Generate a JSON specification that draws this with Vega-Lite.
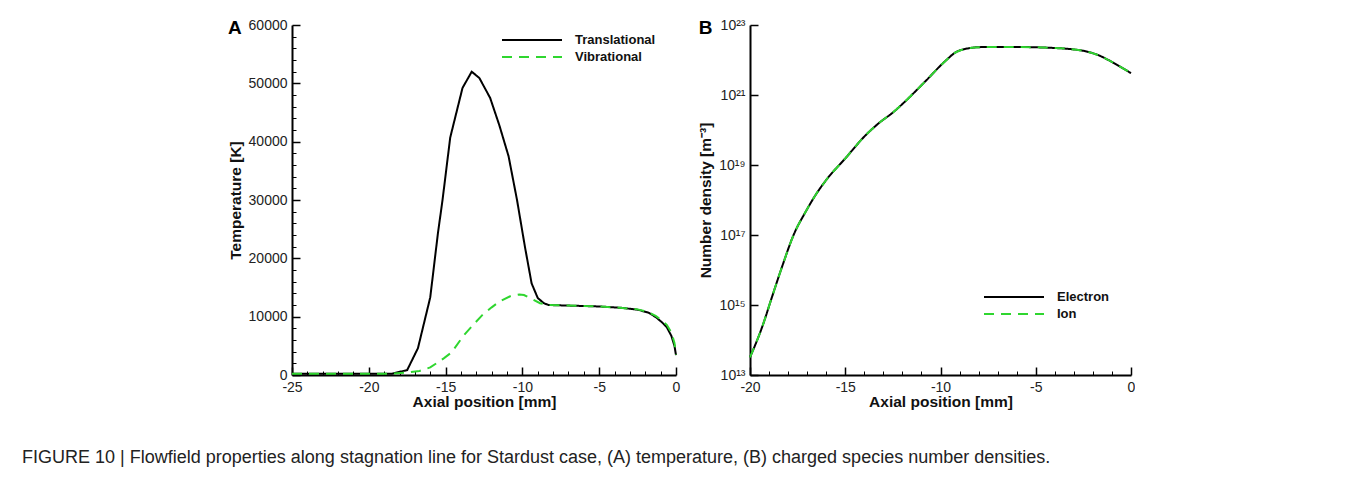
{
  "$schema": "https://vega.github.io/schema/vega-lite/v6.json",
  "padding": {"left": 22, "top": 18, "right": 0, "bottom": 0},
  "background": "white",
  "datasets": {
    "temp": [
      {"x": -25, "T": 200, "series": "Translational"},
      {"x": -20, "T": 200, "series": "Translational"},
      {"x": -18.5, "T": 220, "series": "Translational"},
      {"x": -17.5, "T": 850, "series": "Translational"},
      {"x": -16.8, "T": 4600, "series": "Translational"},
      {"x": -16.0, "T": 13300, "series": "Translational"},
      {"x": -15.5, "T": 24300, "series": "Translational"},
      {"x": -15.2, "T": 30000, "series": "Translational"},
      {"x": -14.7, "T": 40700, "series": "Translational"},
      {"x": -13.9, "T": 49200, "series": "Translational"},
      {"x": -13.3, "T": 52000, "series": "Translational"},
      {"x": -12.8, "T": 50900, "series": "Translational"},
      {"x": -12.1, "T": 47500, "series": "Translational"},
      {"x": -11.5, "T": 42800, "series": "Translational"},
      {"x": -10.9, "T": 37500, "series": "Translational"},
      {"x": -10.35, "T": 30000, "series": "Translational"},
      {"x": -9.83, "T": 21900, "series": "Translational"},
      {"x": -9.4, "T": 15700, "series": "Translational"},
      {"x": -9.0, "T": 13200, "series": "Translational"},
      {"x": -8.6, "T": 12300, "series": "Translational"},
      {"x": -8.3, "T": 12000, "series": "Translational"},
      {"x": -7, "T": 11900, "series": "Translational"},
      {"x": -5, "T": 11750, "series": "Translational"},
      {"x": -3.5, "T": 11500, "series": "Translational"},
      {"x": -2.5, "T": 11200, "series": "Translational"},
      {"x": -1.8, "T": 10700, "series": "Translational"},
      {"x": -1.3, "T": 9900, "series": "Translational"},
      {"x": -0.9, "T": 9000, "series": "Translational"},
      {"x": -0.6, "T": 8200, "series": "Translational"},
      {"x": -0.3, "T": 6700, "series": "Translational"},
      {"x": -0.1, "T": 5000, "series": "Translational"},
      {"x": 0, "T": 3400, "series": "Translational"},
      {"x": -25, "T": 200, "series": "Vibrational"},
      {"x": -18.5, "T": 220, "series": "Vibrational"},
      {"x": -17.5, "T": 450, "series": "Vibrational"},
      {"x": -16.7, "T": 700, "series": "Vibrational"},
      {"x": -16.0, "T": 1300, "series": "Vibrational"},
      {"x": -15.6, "T": 2000, "series": "Vibrational"},
      {"x": -15.1, "T": 2900, "series": "Vibrational"},
      {"x": -14.6, "T": 3900, "series": "Vibrational"},
      {"x": -13.85, "T": 6700, "series": "Vibrational"},
      {"x": -13.2, "T": 8600, "series": "Vibrational"},
      {"x": -12.6, "T": 10300, "series": "Vibrational"},
      {"x": -12.0, "T": 11600, "series": "Vibrational"},
      {"x": -11.5, "T": 12600, "series": "Vibrational"},
      {"x": -10.8, "T": 13500, "series": "Vibrational"},
      {"x": -10.2, "T": 13800, "series": "Vibrational"},
      {"x": -9.9, "T": 13700, "series": "Vibrational"},
      {"x": -9.5, "T": 13200, "series": "Vibrational"},
      {"x": -8.85, "T": 12300, "series": "Vibrational"},
      {"x": -8.3, "T": 12000, "series": "Vibrational"},
      {"x": -7, "T": 11900, "series": "Vibrational"},
      {"x": -5, "T": 11750, "series": "Vibrational"},
      {"x": -3.5, "T": 11500, "series": "Vibrational"},
      {"x": -2.5, "T": 11250, "series": "Vibrational"},
      {"x": -1.8, "T": 10800, "series": "Vibrational"},
      {"x": -1.3, "T": 10100, "series": "Vibrational"},
      {"x": -0.9, "T": 9300, "series": "Vibrational"},
      {"x": -0.6, "T": 8600, "series": "Vibrational"},
      {"x": -0.3, "T": 7300, "series": "Vibrational"},
      {"x": -0.1, "T": 5500, "series": "Vibrational"},
      {"x": 0, "T": 3500, "series": "Vibrational"}
    ],
    "dens": [
      {"x": -20, "n": 3.2e13, "series": "Electron"},
      {"x": -19.35, "n": 2.45e14, "series": "Electron"},
      {"x": -18.83, "n": 1.8e15, "series": "Electron"},
      {"x": -18.3, "n": 1.32e16, "series": "Electron"},
      {"x": -17.69, "n": 1.07e17, "series": "Electron"},
      {"x": -17.08, "n": 4.6e17, "series": "Electron"},
      {"x": -16.55, "n": 1.41e18, "series": "Electron"},
      {"x": -16.03, "n": 3.55e18, "series": "Electron"},
      {"x": -14.98, "n": 1.58e19, "series": "Electron"},
      {"x": -13.93, "n": 7.1e19, "series": "Electron"},
      {"x": -13.23, "n": 1.58e20, "series": "Electron"},
      {"x": -12.5, "n": 3.16e20, "series": "Electron"},
      {"x": -11.83, "n": 6.76e20, "series": "Electron"},
      {"x": -10.78, "n": 2.51e21, "series": "Electron"},
      {"x": -9.73, "n": 9.55e21, "series": "Electron"},
      {"x": -9.2, "n": 1.66e22, "series": "Electron"},
      {"x": -8.67, "n": 2.09e22, "series": "Electron"},
      {"x": -7.8, "n": 2.34e22, "series": "Electron"},
      {"x": -6, "n": 2.35e22, "series": "Electron"},
      {"x": -4.3, "n": 2.24e22, "series": "Electron"},
      {"x": -2.57, "n": 1.86e22, "series": "Electron"},
      {"x": -1.68, "n": 1.35e22, "series": "Electron"},
      {"x": -0.8, "n": 7.6e21, "series": "Electron"},
      {"x": 0, "n": 4.2e21, "series": "Electron"},
      {"x": -20, "n": 3.2e13, "series": "Ion"},
      {"x": -19.35, "n": 2.45e14, "series": "Ion"},
      {"x": -18.83, "n": 1.8e15, "series": "Ion"},
      {"x": -18.3, "n": 1.32e16, "series": "Ion"},
      {"x": -17.69, "n": 1.07e17, "series": "Ion"},
      {"x": -17.08, "n": 4.6e17, "series": "Ion"},
      {"x": -16.55, "n": 1.41e18, "series": "Ion"},
      {"x": -16.03, "n": 3.55e18, "series": "Ion"},
      {"x": -14.98, "n": 1.58e19, "series": "Ion"},
      {"x": -13.93, "n": 7.1e19, "series": "Ion"},
      {"x": -13.23, "n": 1.58e20, "series": "Ion"},
      {"x": -12.5, "n": 3.16e20, "series": "Ion"},
      {"x": -11.83, "n": 6.76e20, "series": "Ion"},
      {"x": -10.78, "n": 2.51e21, "series": "Ion"},
      {"x": -9.73, "n": 9.55e21, "series": "Ion"},
      {"x": -9.2, "n": 1.66e22, "series": "Ion"},
      {"x": -8.67, "n": 2.09e22, "series": "Ion"},
      {"x": -7.8, "n": 2.34e22, "series": "Ion"},
      {"x": -6, "n": 2.35e22, "series": "Ion"},
      {"x": -4.3, "n": 2.24e22, "series": "Ion"},
      {"x": -2.57, "n": 1.86e22, "series": "Ion"},
      {"x": -1.68, "n": 1.35e22, "series": "Ion"},
      {"x": -0.8, "n": 7.6e21, "series": "Ion"},
      {"x": 0, "n": 4.2e21, "series": "Ion"}
    ]
  },
  "title": {
    "text": "FIGURE 10 | Flowfield properties along stagnation line for Stardust case, (A) temperature, (B) charged species number densities.",
    "orient": "bottom",
    "anchor": "start",
    "frame": "bounds",
    "dx": -206,
    "offset": 39,
    "font": "Liberation Sans",
    "fontSize": 18,
    "fontWeight": "normal",
    "color": "#222222"
  },
  "spacing": 18,
  "resolve": {"scale": {"color": "independent", "strokeDash": "independent"}, "legend": {"color": "independent", "strokeDash": "independent"}},
  "hconcat": [
    {
      "width": 384,
      "height": 350,
      "title": {"text": "A", "anchor": "start", "frame": "bounds", "fontSize": 19, "fontWeight": "bold", "font": "Liberation Sans", "color": "#000000", "offset": -20},
      "data": {"name": "temp"},
      "resolve": {"axis": {"x": "independent", "y": "independent"}},
      "layer": [
        {
          "mark": {"type": "line", "strokeWidth": 2, "interpolate": "linear"},
          "encoding": {
            "x": {"field": "x", "type": "quantitative", "scale": {"domain": [-25, 0], "nice": false, "zero": false},
              "axis": {"orient": "bottom", "title": "Axial position [mm]", "values": [-25, -20, -15, -10, -5, 0], "labelExpr": "toString(datum.value)"}},
            "y": {"field": "T", "type": "quantitative", "scale": {"domain": [0, 60000], "nice": false},
              "axis": {"orient": "left", "title": "Temperature [K]", "values": [0, 10000, 20000, 30000, 40000, 50000, 60000], "labelExpr": "toString(datum.value)"}},
            "color": {"field": "series", "type": "nominal", "scale": {"domain": ["Translational", "Vibrational"], "range": ["#000000", "#2fd62f"]},
              "legend": {"title": null, "orient": "none", "legendX": 209, "legendY": 8}},
            "strokeDash": {"field": "series", "type": "nominal", "scale": {"domain": ["Translational", "Vibrational"], "range": [[1, 0], [10, 7]]},
              "legend": {"title": null, "orient": "none", "legendX": 209, "legendY": 8}}
          }
        },
        {
          "mark": {"type": "line", "strokeOpacity": 0},
          "encoding": {
            "x": {"field": "x", "type": "quantitative",
              "axis": {"orient": "bottom", "title": null, "labels": false, "domain": false, "tickSize": -4, "tickWidth": 1, "values": [-24, -23, -22, -21, -19, -18, -17, -16, -14, -13, -12, -11, -9, -8, -7, -6, -4, -3, -2, -1]}},
            "y": {"field": "T", "type": "quantitative",
              "axis": {"orient": "left", "title": null, "labels": false, "domain": false, "tickSize": -4, "tickWidth": 1, "values": [2000, 4000, 6000, 8000, 12000, 14000, 16000, 18000, 22000, 24000, 26000, 28000, 32000, 34000, 36000, 38000, 42000, 44000, 46000, 48000, 52000, 54000, 56000, 58000]}}
          }
        }
      ]
    },
    {
      "width": 381,
      "height": 350,
      "title": {"text": "B", "anchor": "start", "frame": "bounds", "fontSize": 19, "fontWeight": "bold", "font": "Liberation Sans", "color": "#000000", "offset": -20},
      "data": {"name": "dens"},
      "resolve": {"axis": {"x": "independent", "y": "independent"}},
      "layer": [
        {
          "mark": {"type": "line", "strokeWidth": 2, "interpolate": "monotone"},
          "encoding": {
            "x": {"field": "x", "type": "quantitative", "scale": {"domain": [-20, 0], "nice": false, "zero": false},
              "axis": {"orient": "bottom", "title": "Axial position [mm]", "values": [-20, -15, -10, -5, 0], "labelExpr": "toString(datum.value)"}},
            "y": {"field": "n", "type": "quantitative", "scale": {"type": "log", "domain": [1e13, 1e23], "nice": false},
              "axis": {"orient": "left", "title": "Number density [m⁻³]", "values": [1e13, 1e15, 1e17, 1e19, 1e21, 1e23],
                "labelExpr": "datum.value > 5e22 ? '10²³' : datum.value > 5e20 ? '10²¹' : datum.value > 5e18 ? '10¹⁹' : datum.value > 5e16 ? '10¹⁷' : datum.value > 5e14 ? '10¹⁵' : '10¹³'"}},
            "color": {"field": "series", "type": "nominal", "scale": {"domain": ["Electron", "Ion"], "range": ["#000000", "#2fd62f"]},
              "legend": {"title": null, "orient": "none", "legendX": 233, "legendY": 265}},
            "strokeDash": {"field": "series", "type": "nominal", "scale": {"domain": ["Electron", "Ion"], "range": [[1, 0], [10, 7]]},
              "legend": {"title": null, "orient": "none", "legendX": 233, "legendY": 265}}
          }
        },
        {
          "mark": {"type": "line", "strokeOpacity": 0},
          "encoding": {
            "x": {"field": "x", "type": "quantitative",
              "axis": {"orient": "bottom", "title": null, "labels": false, "domain": false, "tickSize": -4, "tickWidth": 1, "values": [-19, -18, -17, -16, -14, -13, -12, -11, -9, -8, -7, -6, -4, -3, -2, -1]}},
            "y": {"field": "n", "type": "quantitative",
              "axis": {"orient": "left", "title": null, "labels": false, "domain": false, "ticks": false}}
          }
        }
      ]
    }
  ],
  "config": {
    "view": {"stroke": null},
    "axis": {
      "grid": false,
      "domainColor": "#000000",
      "domainWidth": 2,
      "tickColor": "#000000",
      "tickWidth": 1.5,
      "tickSize": -8,
      "labelPadding": 13,
      "labelFlush": false,
      "labelOverlap": false,
      "labelFont": "Liberation Sans",
      "labelFontSize": 14,
      "labelColor": "#222222",
      "titleFont": "Liberation Sans",
      "titleFontSize": 15.5,
      "titleFontWeight": "bold",
      "titleColor": "#111111",
      "titlePadding": 5
    },
    "axisX": {"titlePadding": 0},
    "legend": {
      "symbolType": "M-1,0H9",
      "symbolSize": 144,
      "symbolStrokeWidth": 2,
      "labelFont": "Liberation Sans",
      "labelFontSize": 13,
      "labelFontWeight": "bold",
      "labelColor": "#111111",
      "labelOffset": 60,
      "rowPadding": 3,
      "padding": 0
    }
  }
}
